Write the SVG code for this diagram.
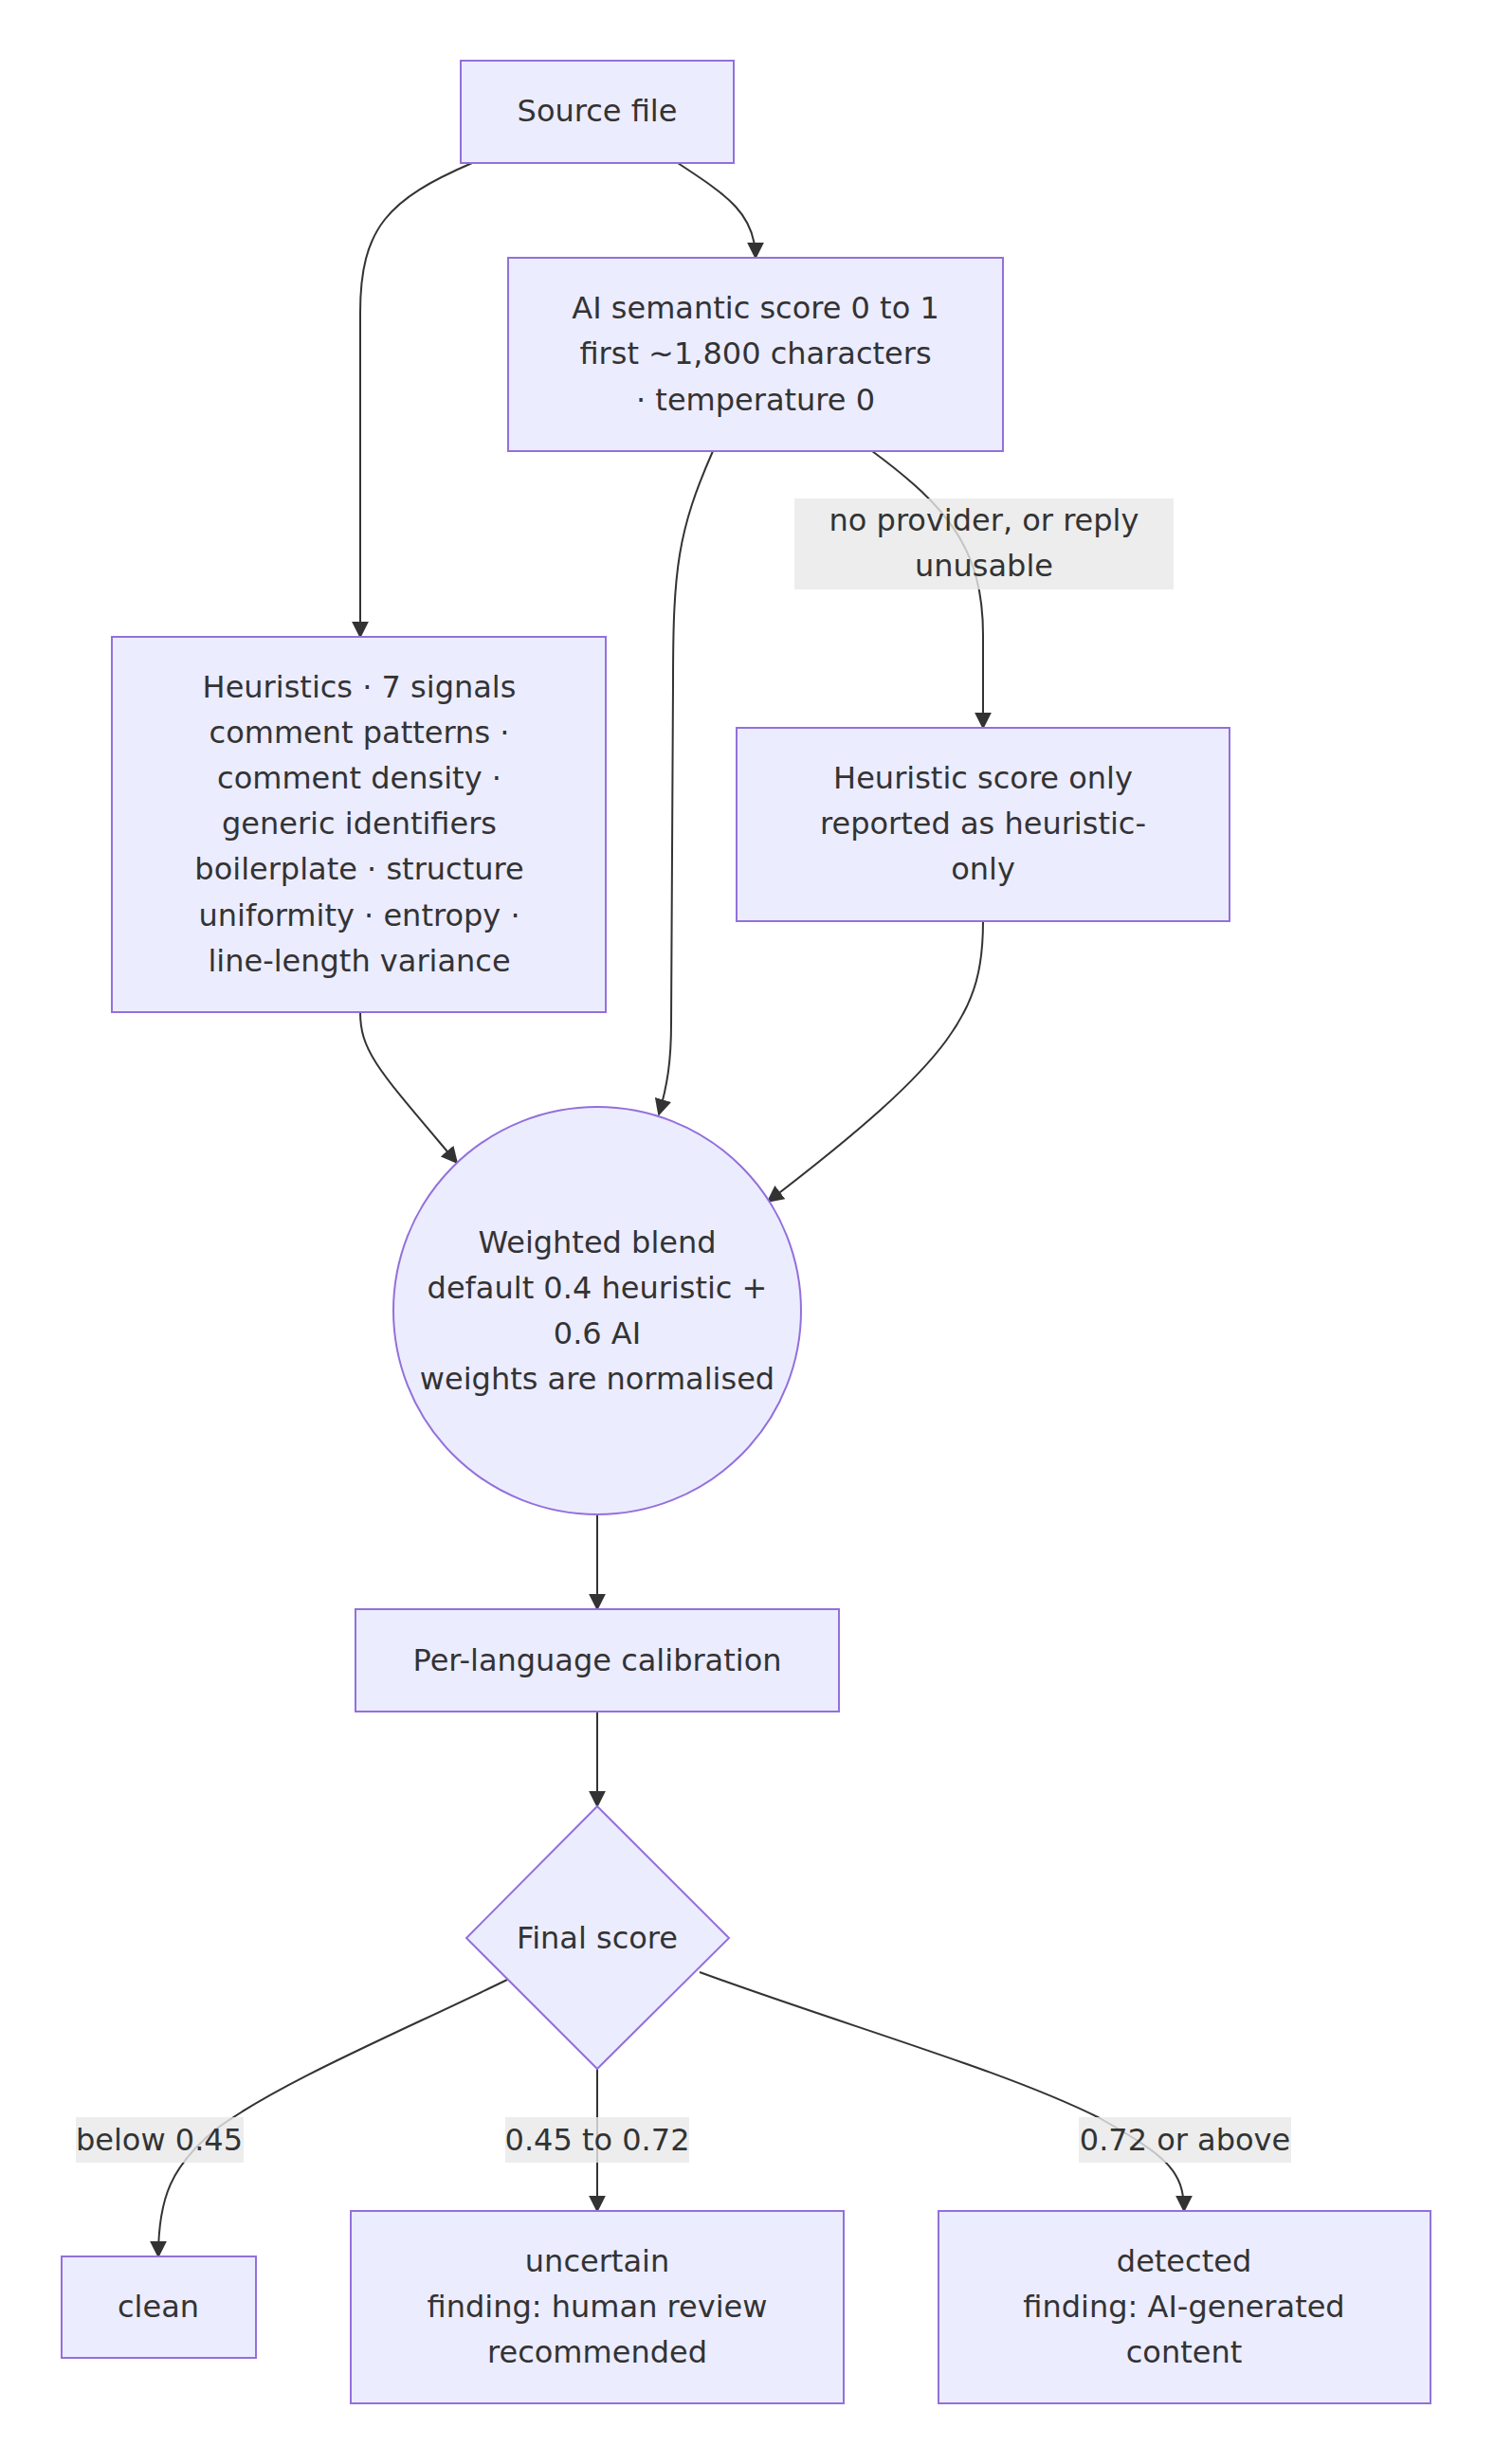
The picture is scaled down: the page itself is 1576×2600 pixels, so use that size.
<svg xmlns="http://www.w3.org/2000/svg" width="1576" height="2600" viewBox="0 0 1576 2600">
<style>
.node rect,.node circle,.node polygon{fill:#ECECFF;stroke:#9370DB;stroke-width:2}
text{font-family:"DejaVu Sans",Verdana,sans-serif;font-size:32px;fill:#333333;text-anchor:middle;dominant-baseline:central}
.edge{fill:none;stroke:#333333;stroke-width:2}
.lbl rect{fill:#e8e8e8;opacity:0.8}
</style>
<defs>
<marker id="arrow" viewBox="0 0 10 10" refX="9" refY="5" markerUnits="userSpaceOnUse" markerWidth="18" markerHeight="18" orient="auto">
<path d="M0,0 L10,5 L0,10 z" fill="#333333"/>
</marker>
</defs>
<rect width="1576" height="2600" fill="#ffffff"/>
<g id="connectors">
<path class="edge" d="M498,172 C410,210 380,240 380,330 L380,672" marker-end="url(#arrow)"/>
<path class="edge" d="M715,172 C765,205 797,225 797,272" marker-end="url(#arrow)"/>
<path class="edge" d="M752,476 C715,560 710,600 710,720 L708,1080 C708,1120 704,1145 695,1176" marker-end="url(#arrow)"/>
<path class="edge" d="M920,476 C1000,535 1037,580 1037,670 L1037,768" marker-end="url(#arrow)"/>
<path class="edge" d="M380,1068 C380,1110 400,1130 482,1227" marker-end="url(#arrow)"/>
<path class="edge" d="M1037,972 C1037,1065 1010,1115 810,1268" marker-end="url(#arrow)"/>
<path class="edge" d="M630,1598 L630,1698" marker-end="url(#arrow)"/>
<path class="edge" d="M630,1806 L630,1906" marker-end="url(#arrow)"/>
<path class="edge" d="M535,2089 C420,2145 300,2195 230,2245 C180,2285 167,2320 167,2381" marker-end="url(#arrow)"/>
<path class="edge" d="M630,2183 L630,2333" marker-end="url(#arrow)"/>
<path class="edge" d="M738,2081 C900,2140 1060,2185 1160,2235 C1230,2275 1249,2290 1249,2333" marker-end="url(#arrow)"/>
</g>
<g id="edge-labels">
<g class="lbl" id="lbl-noprovider"><rect x="838" y="526" width="400" height="96"/><text x="1038" y="549">no provider, or reply</text><text x="1038" y="597">unusable</text></g>
<g class="lbl" id="lbl-below"><rect x="80" y="2234" width="177" height="48"/><text x="168" y="2258">below 0.45</text></g>
<g class="lbl" id="lbl-mid"><rect x="533" y="2234" width="194" height="48"/><text x="630" y="2258">0.45 to 0.72</text></g>
<g class="lbl" id="lbl-above"><rect x="1138" y="2234" width="224" height="48"/><text x="1250" y="2258">0.72 or above</text></g>
</g>
<g id="source" class="node"><rect x="486" y="64" width="288" height="108"/><text x="630" y="117">Source file</text></g>
<g id="ai" class="node"><rect x="536" y="272" width="522" height="204"/><text x="797" y="325">AI semantic score 0 to 1</text><text x="797" y="373">first ~1,800 characters</text><text x="797" y="422">· temperature 0</text></g>
<g id="heuristics" class="node"><rect x="118" y="672" width="521" height="396"/><text x="379" y="725">Heuristics · 7 signals</text><text x="379" y="773">comment patterns ·</text><text x="379" y="821">comment density ·</text><text x="379" y="869">generic identifiers</text><text x="379" y="917">boilerplate · structure</text><text x="379" y="966">uniformity · entropy ·</text><text x="379" y="1014">line-length variance</text></g>
<g id="heuronly" class="node"><rect x="777" y="768" width="520" height="204"/><text x="1037" y="821">Heuristic score only</text><text x="1037" y="869">reported as heuristic-</text><text x="1037" y="917">only</text></g>
<g id="blend" class="node"><circle cx="630" cy="1383" r="215"/><text x="630" y="1311">Weighted blend</text><text x="630" y="1359">default 0.4 heuristic +</text><text x="630" y="1407">0.6 AI</text><text x="630" y="1455">weights are normalised</text></g>
<g id="calib" class="node"><rect x="375" y="1698" width="510" height="108"/><text x="630" y="1752">Per-language calibration</text></g>
<g id="final" class="node"><polygon points="630,1906 769,2045 630,2183 492,2045"/><text x="630" y="2045">Final score</text></g>
<g id="clean" class="node"><rect x="65" y="2381" width="205" height="107"/><text x="167" y="2434">clean</text></g>
<g id="uncertain" class="node"><rect x="370" y="2333" width="520" height="203"/><text x="630" y="2386">uncertain</text><text x="630" y="2434">finding: human review</text><text x="630" y="2482">recommended</text></g>
<g id="detected" class="node"><rect x="990" y="2333" width="519" height="203"/><text x="1249" y="2386">detected</text><text x="1249" y="2434">finding: AI-generated</text><text x="1249" y="2482">content</text></g>
</svg>
